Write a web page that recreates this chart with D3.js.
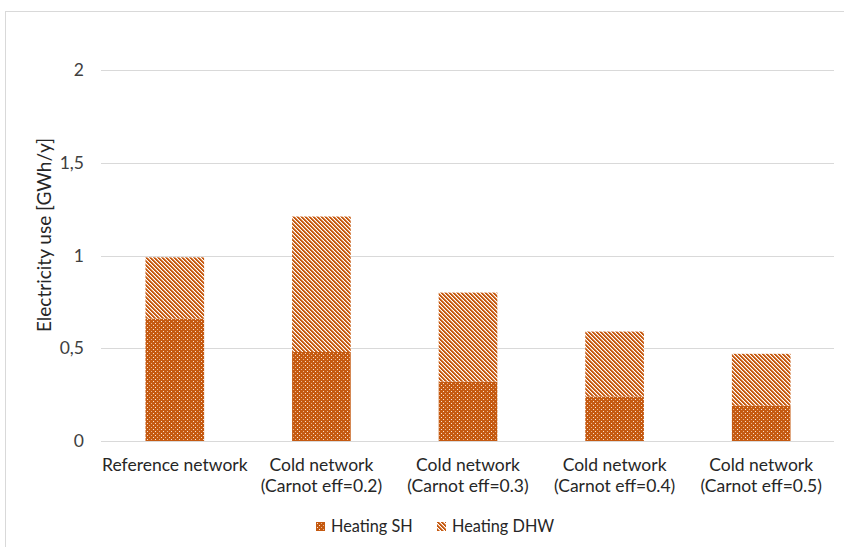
<!DOCTYPE html>
<html>
<head>
<meta charset="utf-8">
<script src="https://cdn.jsdelivr.net/npm/d3@7"></script>
<style>
  html, body { margin: 0; padding: 0; background: #fff; }
  svg { display: block; }
  text { font-family: Lato, "Open Sans", sans-serif; }
</style>
</head>
<body>
<svg id="chart" width="844" height="547"></svg>
<script>
// Scenario categories (two-line labels)
const categories = [
  ["Reference network"],
  ["Cold network", "(Carnot eff=0.2)"],
  ["Cold network", "(Carnot eff=0.3)"],
  ["Cold network", "(Carnot eff=0.4)"],
  ["Cold network", "(Carnot eff=0.5)"]
];
// Electricity use, GWh/y
const heatingSH  = [0.66, 0.48, 0.32, 0.24, 0.19];
const heatingDHW = [0.33, 0.73, 0.48, 0.35, 0.28];
const seriesNames = ["Heating SH", "Heating DHW"];
const yTicks = [0, 0.5, 1, 1.5, 2];
const yTickLabels = ["0", "0,5", "1", "1,5", "2"];
const yTitle = "Electricity use [GWh/y]";

const orange = "#C55A11";
const fontSize = 17.5;
const svg = d3.select("#chart");

// Chart frame
svg.append("rect")
  .attr("x", 5.5).attr("y", 11.5)
  .attr("width", 900).attr("height", 600)
  .attr("fill", "none").attr("stroke", "#d9d9d9").attr("stroke-width", 1);

// Fill patterns
const defs = svg.append("defs");
// dotted fill for SH
const pSH = defs.append("pattern")
  .attr("id", "patSH").attr("patternUnits", "userSpaceOnUse")
  .attr("width", 8).attr("height", 8);
pSH.append("rect").attr("width", 8).attr("height", 8).attr("fill", orange);
[[1,1],[5,1],[3,3],[7,3],[1,5],[5,5],[3,7],[7,7]].forEach(([px, py], i) => {
  pSH.append("rect").attr("x", px).attr("y", py).attr("width", 1).attr("height", 1)
    .attr("fill", i % 2 ? "#eab690" : "#fbe4d3");
});
// downward diagonal stripes for DHW
const pDHW = defs.append("pattern")
  .attr("id", "patDHW").attr("patternUnits", "userSpaceOnUse")
  .attr("width", 4).attr("height", 4);
pDHW.append("rect").attr("width", 4).attr("height", 4).attr("fill", "#fff");
for (let yy = 0; yy < 4; yy++) {
  [[yy, orange], [(yy + 1) % 4, orange], [(yy + 2) % 4, "#e4a47a"]].forEach(([xx, c]) => {
    pDHW.append("rect").attr("x", xx).attr("y", yy).attr("width", 1).attr("height", 1)
      .attr("fill", c);
  });
}
const fills = ["url(#patSH)", "url(#patDHW)"];

const x = d3.scaleBand()
  .domain(d3.range(categories.length))
  .range([101.5, 834.5])
  .paddingInner(0.6).paddingOuter(0.3);
const y = d3.scaleLinear().domain([0, 2]).range([441, 70]);

// Gridlines
svg.append("g").selectAll("line").data(yTicks).join("line")
  .attr("x1", 101).attr("x2", 834)
  .attr("y1", d => Math.round(y(d)) + 0.5).attr("y2", d => Math.round(y(d)) + 0.5)
  .attr("stroke", "#d9d9d9").attr("stroke-width", 1);

// Y tick labels
svg.append("g").selectAll("text").data(yTicks).join("text")
  .attr("x", 84).attr("y", d => y(d))
  .attr("dy", "0.35em").attr("text-anchor", "end")
  .attr("font-size", fontSize).attr("fill", "#404040")
  .text((d, i) => yTickLabels[i]);

// Y axis title
svg.append("text")
  .attr("transform", `translate(44,235) rotate(-90)`)
  .attr("text-anchor", "middle").attr("dy", "0.35em")
  .attr("font-size", 19).attr("fill", "#262626")
  .text(yTitle);

// Stacked bars
const stackData = categories.map((c, i) => ({ i, sh: heatingSH[i], dhw: heatingDHW[i] }));
const stacked = d3.stack().keys(["sh", "dhw"])(stackData);
svg.append("g").selectAll("g").data(stacked).join("g")
  .attr("fill", (d, k) => fills[k])
  .selectAll("rect").data(d => d).join("rect")
  .attr("x", d => x(d.data.i))
  .attr("width", x.bandwidth())
  .attr("y", d => y(d[1]))
  .attr("height", d => y(d[0]) - y(d[1]));

// Category labels
const cat = svg.append("g").selectAll("text").data(categories).join("text")
  .attr("text-anchor", "middle")
  .attr("font-size", fontSize).attr("fill", "#262626")
  .attr("transform", (d, i) => `translate(${x(i) + x.bandwidth() / 2},471)`);
cat.selectAll("tspan").data(d => d).join("tspan")
  .attr("x", 0).attr("y", (d, j) => j * 21)
  .text(d => d);

// Legend
const legendX = [316, 437];
const lg = svg.append("g").selectAll("g").data(seriesNames).join("g")
  .attr("transform", (d, i) => `translate(${legendX[i]},522)`);
lg.append("rect").attr("x", 0).attr("y", 0).attr("width", 9).attr("height", 9)
  .attr("fill", (d, i) => fills[i]);
lg.append("text").attr("x", 15).attr("y", 4.5).attr("dy", "0.35em")
  .attr("font-size", 16.3).attr("fill", "#262626")
  .text(d => d);
</script>
</body>
</html>
